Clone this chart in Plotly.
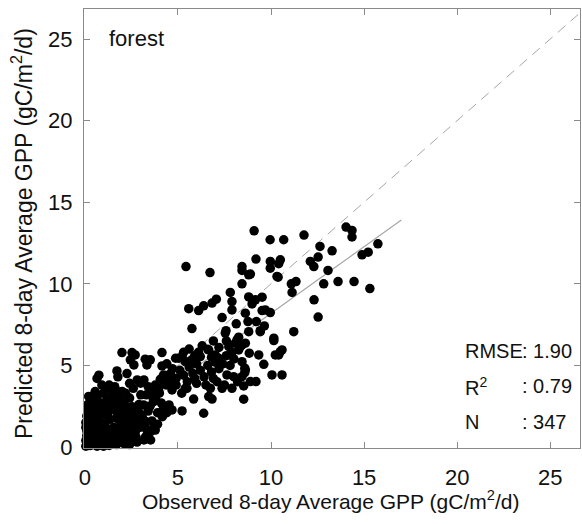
import plotly.graph_objects as go

# Observed (x) and predicted (y) 8-day average GPP, gC/m2/d
obs = [
    9.09, 5.43, 6.72, 8.44, 8.44, 8.80, 8.44, 7.81, 7.90, 7.90,
    8.80, 9.16, 9.52, 8.98, 7.06, 6.83, 6.38, 6.11, 5.58, 5.75,
    7.37, 8.62, 9.52, 9.96, 8.13, 8.76, 9.21, 9.64, 9.42, 7.58,
    10.15, 8.26, 8.08, 7.73, 8.35, 6.60, 9.19, 9.96, 9.96, 10.32,
    9.95, 10.68, 11.77, 14.03, 14.35, 14.35, 12.63, 13.28, 12.53, 12.11,
    12.30, 15.74, 15.22, 14.89, 10.50, 10.41, 13.06, 8.89, 10.38, 11.09,
    11.34, 11.13, 12.83, 13.60, 14.46, 15.31, 12.31, 12.53, 11.22, 9.69,
    10.15, 8.80, 9.42, 8.44, 8.83, 10.50, 10.41, 10.59, 8.59, 8.59,
    10.05, 10.59, 8.89, 9.19, 8.53, 8.53, 9.61, 10.23, 9.34, 7.63,
    7.99, 5.48, 5.22, 6.38, 5.84, 6.74, 6.65, 6.83, 7.37, 5.04,
    5.22, 5.39, 6.20, 6.65, 7.00, 7.19, 7.54, 8.17, 8.62, 8.26,
    8.44, 8.62, 8.44, 1.72, 1.77, 2.26, 1.99, 2.53, 2.70, 2.44,
    2.63, 4.14, 3.24, 3.33, 3.51, 2.81, 2.99, 3.17, 1.92, 2.19,
    3.53, 3.62, 1.65, 1.92, 2.27, 2.54, 2.63, 3.08, 3.26, 2.81,
    4.25, 4.52, 3.71, 3.53, 3.26, 3.17, 3.53, 4.16, 4.23, 4.14,
    3.78, 3.96, 4.46, 4.68, 5.39, 4.68, 3.69, 3.15, 3.78, 0.20,
    0.55, 0.91, 0.65, 0.75, 1.30, 1.10, 0.66, 0.30, 0.27, 0.10,
    4.87, 4.60, 4.90, 5.10, 5.30, 5.60, 5.80, 6.00, 6.20, 6.40,
    6.60, 6.80, 7.00, 7.20, 7.40, 7.60, 7.80, 8.00, 5.70, 6.10,
    5.50, 6.00, 6.50, 7.10, 7.50, 4.40, 4.90, 5.20, 4.70, 4.40,
    5.90, 6.90, 7.90, 8.20, 5.30, 4.20, 4.60, 4.30, 4.05, 0.05,
    0.15, 0.30, 0.10, 0.40, 0.55, 0.60, 0.25, 0.75, 0.85, 0.35,
    0.95, 0.50, 0.65, 0.95, 1.05, 1.15, 1.25, 1.35, 1.45, 1.55,
    1.65, 1.75, 1.85, 1.95, 2.05, 2.15, 2.25, 2.35, 2.45, 2.55,
    2.65, 2.75, 2.85, 2.95, 1.10, 0.70, 1.40, 0.90, 1.60, 2.00,
    0.40, 1.20, 2.40, 0.20, 0.50, 0.80, 1.00, 1.30, 1.70, 2.10,
    2.40, 2.80, 0.15, 0.45, 1.80, 2.20, 3.00, 3.40, 3.60, 3.90,
    3.30, 3.90, 4.20, 2.60, 3.00, 3.40, 2.40, 1.50, 0.05, 0.30,
    0.60, 1.90, 2.30, 2.70, 1.20, 1.60, 0.10, 0.35, 0.70, 1.10,
    0.85, 0.50, 6.30, 6.90, 7.20, 7.60, 6.80, 5.90, 5.60, 7.90,
    0.20, 0.45, 0.70, 0.95, 1.20, 1.45, 1.70, 1.95, 2.20, 2.45,
    2.70, 0.10, 0.40, 0.80, 1.10, 1.50, 1.90, 2.30, 2.60, 0.30,
    0.60, 0.90, 1.30, 1.70, 2.10, 2.50, 2.90, 0.15, 0.55, 1.00,
    1.40, 1.80, 3.20, 3.50, 3.80, 4.10, 4.40, 3.30, 3.70, 4.00,
    0.05, 0.25, 0.05, 1.00, 1.60, 2.00, 2.90,
]
pred = [
    13.25, 11.06, 10.69, 11.06, 10.82, 10.55, 10.00, 9.47, 8.91, 8.40,
    9.20, 9.02, 9.18, 8.77, 9.06, 8.82, 8.65, 8.36, 8.48, 7.26,
    7.93, 8.20, 8.36, 8.24, 7.55, 7.69, 7.69, 7.42, 7.13, 7.13,
    6.52, 6.73, 6.36, 6.15, 6.15, 5.99, 11.52, 11.37, 10.96, 10.45,
    12.70, 12.70, 12.99, 13.48, 13.27, 12.87, 12.29, 12.02, 11.64, 11.37,
    11.06, 12.45, 11.94, 11.78, 11.47, 11.23, 10.82, 10.60, 10.41, 10.00,
    10.14, 9.47, 10.00, 10.14, 10.14, 9.71, 9.02, 7.96, 7.07, 8.40,
    6.67, 7.07, 7.07, 6.26, 5.75, 5.85, 5.64, 5.95, 4.83, 4.56,
    4.42, 4.42, 4.01, 4.01, 3.74, 2.93, 5.07, 5.64, 5.64, 4.42,
    4.31, 3.60, 2.21, 2.07, 2.94, 3.60, 3.09, 2.94, 3.60, 5.44,
    5.54, 5.23, 5.54, 5.95, 5.64, 5.44, 6.98, 6.56, 6.36, 5.95,
    5.23, 4.72, 4.31, 4.66, 4.30, 4.50, 5.79, 5.79, 5.64, 5.34,
    5.03, 5.79, 5.38, 5.03, 5.34, 4.11, 3.91, 4.11, 3.39, 3.29,
    3.39, 3.09, 2.47, 2.27, 2.27, 2.47, 1.96, 1.86, 1.55, 1.55,
    2.47, 2.58, 1.25, 0.94, 0.63, 0.43, 0.43, 1.86, 4.42, 4.97,
    3.80, 3.60, 4.11, 3.50, 3.60, 2.27, 2.78, 2.58, 1.04, 3.10,
    3.40, 3.80, 4.20, 4.40, 3.80, 3.50, 3.10, 2.50, 2.27, 1.90,
    5.44, 4.50, 4.20, 4.70, 4.40, 4.90, 4.50, 5.10, 4.70, 4.30,
    5.00, 4.60, 5.20, 4.80, 5.10, 5.60, 5.00, 5.40, 5.30, 5.80,
    4.00, 3.90, 3.80, 4.00, 3.80, 3.80, 3.80, 3.30, 4.80, 5.10,
    4.20, 4.20, 3.60, 4.00, 5.80, 4.30, 3.95, 3.85, 4.15, 0.05,
    0.30, 0.10, 0.70, 0.50, 0.20, 0.80, 1.10, 0.40, 1.10, 1.50,
    0.70, 1.80, 0.05, 0.15, 1.40, 0.40, 0.90, 1.70, 0.30, 1.20,
    0.70, 1.90, 0.40, 1.40, 0.90, 1.80, 0.50, 1.30, 0.80, 2.00,
    1.10, 0.60, 2.20, 1.20, 2.10, 2.30, 2.50, 2.70, 2.90, 2.80,
    2.00, 3.00, 3.00, 0.40, 1.00, 1.60, 0.05, 0.10, 0.15, 0.20,
    0.15, 0.30, 2.60, 2.90, 2.40, 2.50, 2.00, 2.20, 1.60, 2.10,
    1.10, 1.40, 2.30, 3.60, 3.20, 3.70, 3.90, 3.40, 1.20, 0.90,
    1.30, 1.10, 1.60, 1.60, 1.90, 2.30, 0.20, 0.65, 0.55, 0.80,
    2.00, 2.50, 6.20, 6.50, 6.10, 6.50, 5.50, 5.60, 6.00, 5.80,
    0.10, 0.35, 0.20, 0.45, 0.25, 0.60, 0.45, 0.70, 0.35, 0.50,
    0.90, 1.00, 1.20, 0.95, 1.25, 0.95, 1.60, 1.05, 1.35, 1.70,
    2.10, 1.40, 2.20, 1.75, 1.50, 1.70, 1.50, 2.30, 2.70, 2.60,
    2.90, 3.20, 1.60, 2.50, 2.90, 2.70, 2.10, 3.20, 3.10, 3.30,
    0.40, 0.80, 1.50, 3.30, 3.70, 3.40, 2.60,
]

fit_slope = 0.817
fit_intercept = 0.02
fit_x = [0.0, 17.0]
one_to_one_x = [0.0, 26.6]
tick_vals = [0, 5, 10, 15, 20, 25]
x_range = [-0.05, 26.6]
y_range = [-0.06, 26.84]

site_label = "forest"
stat_names = ["RMSE", "R<sup>2</sup>", "N"]
stat_values = [": 1.90", ": 0.79", ": 347"]
x_title = "Observed 8-day Average GPP (gC/m<sup>2</sup>/d)"
y_title = "Predicted 8-day Average GPP (gC/m<sup>2</sup>/d)"

FONT = "Liberation Sans, Arial, sans-serif"
LINE_GRAY = "#a6a6a6"
AXIS_GRAY = "#8a8a8a"

fig = go.Figure()

fig.add_trace(go.Scatter(
    x=one_to_one_x, y=one_to_one_x, mode="lines",
    line=dict(color=LINE_GRAY, width=1, dash="10px,7px"),
    hoverinfo="skip", showlegend=False,
))
fig.add_trace(go.Scatter(
    x=fit_x, y=[fit_slope * v + fit_intercept for v in fit_x], mode="lines",
    line=dict(color=LINE_GRAY, width=1.2),
    hoverinfo="skip", showlegend=False,
))
fig.add_trace(go.Scatter(
    x=obs, y=pred, mode="markers",
    marker=dict(color="black", size=9.5, line=dict(width=0)),
    cliponaxis=False, showlegend=False,
))

axis_common = dict(
    tickvals=tick_vals, ticks="inside", ticklen=6, tickwidth=1,
    tickcolor=AXIS_GRAY, showline=True, linecolor=AXIS_GRAY, linewidth=1,
    mirror="ticks", showgrid=False, zeroline=False,
    tickfont=dict(family=FONT, size=22, color="#111"),
)

fig.update_layout(
    width=582, height=524,
    margin=dict(l=84, r=2, t=9, b=76),
    paper_bgcolor="white", plot_bgcolor="white",
    xaxis=dict(range=x_range, ticklabelstandoff=10, **axis_common),
    yaxis=dict(range=y_range, ticklabelstandoff=6, **axis_common),
    font=dict(family=FONT, color="#111"),
)

annotations = [
    dict(text=site_label, x=0.046, y=0.932, xref="paper", yref="paper",
         xanchor="left", yanchor="middle", showarrow=False,
         font=dict(family=FONT, size=22, color="#111")),
    dict(text=x_title, x=0.496, y=-0.1175, xref="paper", yref="paper",
         xanchor="center", yanchor="middle", showarrow=False,
         font=dict(family=FONT, size=21, color="#111")),
    dict(text=y_title, x=-0.125, y=0.4875, xref="paper", yref="paper",
         xanchor="center", yanchor="middle", showarrow=False, textangle=-90,
         font=dict(family=FONT, size=23, color="#111")),
]
stat_rows_y = [0.221, 0.141, 0.059]
for name, val, yy in zip(stat_names, stat_values, stat_rows_y):
    annotations.append(dict(text=name, x=0.764, y=yy, xref="paper", yref="paper",
                            xanchor="left", yanchor="middle", showarrow=False,
                            font=dict(family=FONT, size=20, color="#111")))
    annotations.append(dict(text=val, x=0.88, y=yy, xref="paper", yref="paper",
                            xanchor="left", yanchor="middle", showarrow=False,
                            font=dict(family=FONT, size=20, color="#111")))
fig.update_layout(annotations=annotations)

fig.write_html("out.html")
